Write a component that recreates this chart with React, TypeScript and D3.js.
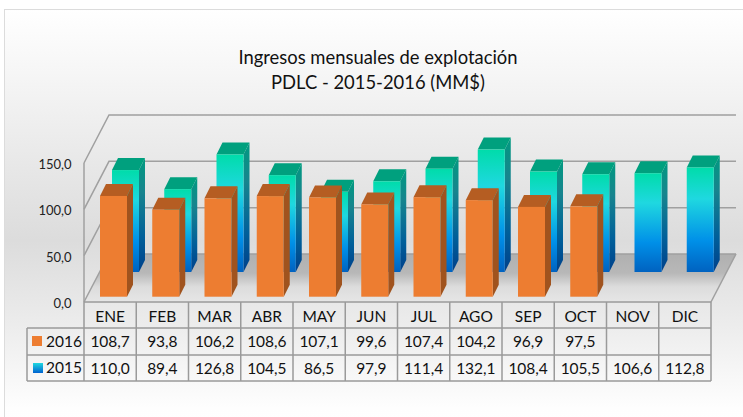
import React from "react";
import * as d3 from "d3";

const months = ["ENE", "FEB", "MAR", "ABR", "MAY", "JUN", "JUL", "AGO", "SEP", "OCT", "NOV", "DIC"];
const values2016: (number | null)[] = [108.7, 93.8, 106.2, 108.6, 107.1, 99.6, 107.4, 104.2, 96.9, 97.5, null, null];
const values2015: (number | null)[] = [110.0, 89.4, 126.8, 104.5, 86.5, 97.9, 111.4, 132.1, 108.4, 105.5, 106.6, 112.8];
const yTicks = [0, 50, 100, 150];
const titleLines = ["Ingresos mensuales de explotación", "PDLC - 2015-2016 (MM$)"];

const fmt = (v: number) => v.toFixed(1).replace(".", ",");
const FONT = "Lato, 'Open Sans', sans-serif";

// layout
const left = 84;
const right = 711;
const floorY = 302;
const depthX = 25;
const depthY = -48;
const grid = "#a0a0a0";
const tableLine = "#9a9a9a";
const tableRows = [302, 328, 355, 381];
const tableLeft = 27;

const x = d3.scaleBand().domain(months).range([left, right]);
const h = d3.scaleLinear().domain([0, 150]).range([0, 139]);

const line = d3.line();

// one 3d bar: front, side and top faces
function Bar({ x0, base, v, w, front, side, top }: any) {
  const dx = 6;
  const dy = -12;
  const t = base - h(v);
  const r = x0 + w;
  return (
    <g>
      <path d={line([[r, t], [r + dx, t + dy], [r + dx, base + dy], [r, base]]) + "Z"} fill={side} />
      <path d={line([[x0, t], [x0 + dx, t + dy], [r + dx, t + dy], [r, t]]) + "Z"} fill={top} />
      <rect x={x0} y={t} width={w} height={base - t} fill={front} />
    </g>
  );
}

export default function App() {
  const backY = floorY + depthY;
  return (
    <svg
      width={743}
      height={417}
      style={{ position: "absolute", left: 0, top: 0, background: "#fff" }}
      fontFamily={FONT}
    >
      <defs>
        <linearGradient id="bg" x1="0" y1="0" x2="0" y2="1">
          <stop offset="0" stopColor="#ffffff" />
          <stop offset="0.15" stopColor="#f6f6f6" />
          <stop offset="0.55" stopColor="#dcdcdc" />
          <stop offset="0.75" stopColor="#ececec" />
          <stop offset="0.95" stopColor="#fefefe" />
          <stop offset="1" stopColor="#ffffff" />
        </linearGradient>
        <linearGradient id="floor" x1="0" y1="0" x2="0" y2="1">
          <stop offset="0" stopColor="#b0b0b0" />
          <stop offset="0.4" stopColor="#b8b8b8" />
          <stop offset="0.68" stopColor="#dcdcdc" />
          <stop offset="1" stopColor="#e6e6e6" />
        </linearGradient>
        <linearGradient id="blue" x1="0" y1="0" x2="0" y2="1">
          <stop offset="0" stopColor="#00dcaa" />
          <stop offset="0.3" stopColor="#1fd8e0" />
          <stop offset="0.7" stopColor="#0090e8" />
          <stop offset="1" stopColor="#0062c0" />
        </linearGradient>
        <linearGradient id="blueSide" x1="0" y1="0" x2="0" y2="1">
          <stop offset="0" stopColor="#009a80" />
          <stop offset="0.3" stopColor="#17848e" />
          <stop offset="0.7" stopColor="#005f9a" />
          <stop offset="1" stopColor="#00408a" />
        </linearGradient>
        <linearGradient id="swatch" x1="0" y1="0" x2="0" y2="1">
          <stop offset="0" stopColor="#1fd8e0" />
          <stop offset="1" stopColor="#0062d0" />
        </linearGradient>
      </defs>

      <rect x={4.5} y={9.5} width={760} height={420} fill="url(#bg)" stroke="#dcdcdc" />

      <g textAnchor="middle" fontSize={18.4} fill="#111">
        {titleLines.map((t, i) => (
          <text key={t} x={378} y={63.5 + i * 25.5}>{t}</text>
        ))}
      </g>

      {/* floor */}
      <path
        d={line([[left, floorY], [left + depthX, backY], [right + depthX, backY], [right, floorY]]) + "Z"}
        fill="url(#floor)"
      />
      {/* walls and gridlines */}
      <g stroke={grid} strokeWidth={1.5} fill="none">
        {yTicks.map((t) => (
          <path
            key={t}
            d={line([
              [left, floorY - h(t)],
              [left + depthX, backY - h(t)],
              [right + depthX, backY - h(t)],
            ]) ?? ""}
          />
        ))}
        <path d={line([[left, floorY], [left, floorY - h(150)]]) ?? ""} />
        <path d={line([[right, floorY], [right + depthX, backY]]) ?? ""} />
      </g>

      <g fontSize={13} fill="#222" textAnchor="end">
        {yTicks.map((t) => (
          <text key={t} x={71.5} y={floorY - h(t) + 6}>{fmt(t)}</text>
        ))}
      </g>

      {/* 2015 row sits behind the 2016 row */}
      {months.map((m, i) =>
        values2015[i] == null ? null : (
          <Bar
            key={m}
            x0={(x(m) as number) + 28}
            base={272}
            v={values2015[i]}
            w={27}
            front="url(#blue)"
            side="url(#blueSide)"
            top="#00a07e"
          />
        ),
      )}
      {months.map((m, i) =>
        values2016[i] == null ? null : (
          <Bar
            key={m}
            x0={(x(m) as number) + 16}
            base={296.7}
            v={values2016[i]}
            w={27}
            front="#ed7d31"
            side="#a0531e"
            top="#b55d22"
          />
        ),
      )}

      {/* data table */}
      <g stroke={tableLine} strokeWidth={1.5} fill="none">
        <path d={line([[left, floorY], [right, floorY]]) ?? ""} />
        {tableRows.slice(1).map((y) => (
          <path key={y} d={line([[tableLeft, y], [right, y]]) ?? ""} />
        ))}
        <path d={line([[tableLeft, tableRows[1]], [tableLeft, tableRows[3]]]) ?? ""} />
        {months.map((m) => (
          <path key={m} d={line([[x(m) as number, floorY], [x(m) as number, tableRows[3]]]) ?? ""} />
        ))}
        <path d={line([[right, floorY], [right, tableRows[3]]]) ?? ""} />
      </g>
      <g fontSize={15.5} fill="#111" textAnchor="middle">
        {months.map((m, i) => {
          const cx = (x(m) as number) + x.bandwidth() / 2;
          return (
            <g key={m}>
              <text x={cx} y={322}>{m}</text>
              {values2016[i] != null && <text x={cx} y={347}>{fmt(values2016[i] as number)}</text>}
              {values2015[i] != null && <text x={cx} y={374}>{fmt(values2015[i] as number)}</text>}
            </g>
          );
        })}
      </g>
      <rect x={32} y={336} width={10} height={10} fill="#ed7d31" />
      <rect x={33} y={363} width={10} height={10} fill="url(#swatch)" />
      <g fontSize={15.5} fill="#111">
        <text x={46} y={347}>2016</text>
        <text x={46} y={373}>2015</text>
      </g>
    </svg>
  );
}
